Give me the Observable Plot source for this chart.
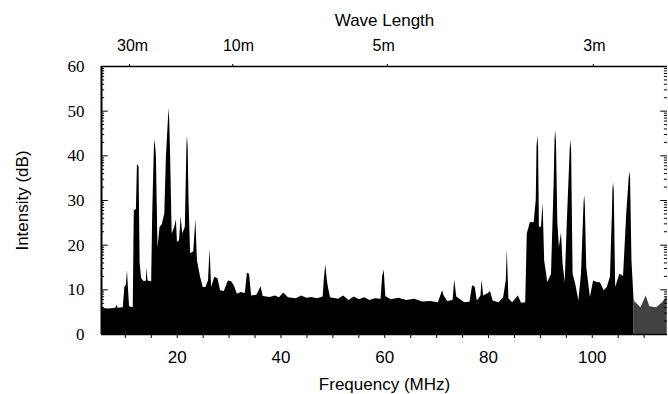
<!DOCTYPE html>
<html><head><meta charset="utf-8">
<script src="https://cdn.jsdelivr.net/npm/d3@7"></script>
<script src="https://cdn.jsdelivr.net/npm/@observablehq/plot@0.6"></script>
<style>body{margin:0;background:#fff;overflow:hidden}</style>
</head><body><div id="chart"></div>
<script>
// Spectrum envelope: frequency (MHz) and intensity (dB)
const freqMHz = [
  5.44, 6.96, 8.17, 8.38, 8.58, 9.59, 9.90, 10.20, 10.40, 10.61,
  10.81, 11.52, 11.72, 12.13, 12.33, 12.64, 12.84, 13.14, 13.65, 14.06,
  14.16, 14.36, 15.07, 15.27, 15.58, 15.68, 15.85, 15.98, 16.29, 16.69,
  17.10, 17.60, 17.91, 18.30, 18.42, 18.55, 18.72, 19.02, 19.53, 19.84,
  20.04, 20.44, 20.75, 21.05, 21.56, 21.86, 21.96, 22.10, 22.27, 22.57,
  23.18, 23.59, 23.89, 24.50, 25.01, 25.51, 26.02, 26.33, 26.63, 27.24,
  27.85, 28.35, 29.06, 29.87, 30.48, 30.99, 31.60, 32.31, 33.12, 33.53,
  33.93, 34.34, 35.35, 36.16, 36.57, 37.89, 38.90, 39.71, 40.52, 41.43,
  42.96, 43.97, 44.98, 46.00, 47.01, 48.13, 48.33, 48.63, 48.94, 49.14,
  49.55, 51.07, 52.08, 53.10, 54.11, 55.13, 56.14, 57.15, 58.17, 59.28,
  59.59, 59.89, 60.20, 61.21, 62.73, 64.25, 65.77, 67.29, 68.81, 70.34,
  71.15, 71.45, 72.16, 73.17, 73.48, 73.88, 74.49, 75.41, 76.42, 76.93,
  77.44, 77.84, 78.55, 78.75, 79.06, 79.97, 80.38, 80.88, 82.00, 82.91,
  83.42, 83.62, 83.93, 84.64, 85.75, 86.36, 87.17, 87.47, 88.08, 88.79,
  89.20, 89.35, 89.50, 89.65, 89.81, 90.21, 90.52, 90.82, 91.43, 92.14,
  92.65, 92.82, 92.95, 93.10, 93.36, 93.66, 94.07, 94.37, 94.78, 95.18,
  95.75, 95.89, 96.02, 96.30, 96.80, 97.41, 97.92, 98.42, 98.53, 98.66,
  98.93, 99.64, 100.25, 101.06, 101.57, 102.28, 102.89, 103.50, 103.90, 103.98,
  104.11, 104.24, 104.51, 105.32, 106.03, 106.64, 107.12, 107.25, 107.38, 107.65,
  108.06, 109.38, 110.39, 111.10, 112.42, 113.63, 114.45
];
const intensityDb = [
  5.8, 5.7, 5.9, 6.6, 5.9, 6.0, 10.5, 11.0, 14.3, 10.0,
  6.2, 6.0, 27.7, 28.0, 38.1, 37.5, 16.0, 12.5, 11.8, 12.0,
  15.0, 12.0, 11.8, 27.0, 41.5, 43.6, 42.0, 40.0, 19.5, 24.0,
  24.5, 27.0, 39.7, 48.0, 50.6, 48.0, 40.0, 22.5, 24.0, 25.7,
  20.6, 21.0, 26.3, 22.5, 24.0, 42.0, 44.4, 42.0, 30.0, 18.1,
  18.5, 25.7, 16.5, 12.8, 10.5, 10.5, 12.0, 19.1, 10.5, 12.8,
  12.5, 9.8, 9.6, 12.0, 11.8, 10.9, 9.0, 9.4, 9.2, 13.7,
  13.5, 8.6, 8.8, 10.7, 8.5, 8.3, 8.6, 8.2, 9.3, 8.2,
  8.0, 8.6, 8.1, 8.3, 8.0, 8.4, 12.0, 15.6, 12.0, 10.5,
  8.2, 7.9, 8.6, 7.6, 8.4, 7.8, 8.2, 7.6, 8.0, 7.9,
  13.0, 14.4, 8.5, 7.8, 8.1, 7.6, 7.9, 7.3, 7.4, 7.1,
  9.8, 8.6, 7.4, 7.6, 12.2, 8.4, 7.9, 7.1, 7.2, 10.9,
  10.6, 7.5, 8.6, 12.2, 8.6, 9.2, 9.6, 7.5, 7.1, 8.2,
  12.0, 18.9, 8.0, 7.1, 8.6, 7.0, 7.1, 22.5, 25.1, 25.0,
  30.0, 42.0, 44.4, 42.0, 24.0, 24.0, 29.4, 16.5, 11.6, 13.5,
  33.8, 43.5, 45.6, 43.0, 25.0, 19.5, 22.7, 15.8, 11.6, 24.8,
  41.5, 43.5, 41.0, 13.5, 11.3, 7.5, 13.5, 29.5, 31.1, 29.0,
  15.0, 8.3, 12.0, 11.6, 11.6, 9.8, 10.5, 12.8, 28.0, 32.5,
  33.9, 32.0, 10.5, 13.5, 13.0, 27.0, 35.0, 36.4, 35.0, 16.5,
  7.5, 6.0, 8.6, 6.2, 6.0, 7.2, 8.5
];
// Axes
const xTicks = [10, 15, 20, 25, 30, 35, 40, 45, 50, 55, 60, 65, 70, 75, 80, 85, 90, 95, 100, 105, 110];
const xTickLabels = [20, 40, 60, 80, 100];
const yTickLabels = [0, 10, 20, 30, 40, 50, 60];
const waveTickFreq = [10.8, 30.7, 60.5, 100.2];
const waveLabelFreq = [11.4, 31.8, 59.8, 100.4];
const waveTickLabel = ["30m", "10m", "5m", "3m"];
const xDomain = [5.4, 114.5];
const yDomain = [0, 60];

const spectrum = freqMHz.map((f, i) => ({f, db: intensityDb[i]}));
const waveLabels = waveTickLabel.map((t, i) => ({t, f: waveLabelFreq[i]}));
// inner minor ticks, log-spaced inside each 10 dB band
const innerTicks = [];
for (let n = 0; n < 6; n++) for (let k = 1; k < 10; k++) innerTicks.push({y: 10 * n + 10 * Math.log10(k), major: k === 1});
innerTicks.push({y: 60, major: true});

const sans = "'Liberation Sans', Arial, Helvetica, sans-serif";
const serif = "'Liberation Serif', 'Times New Roman', serif";

const chart = Plot.plot({
  width: 668, height: 394,
  marginLeft: 101, marginRight: 1, marginTop: 66, marginBottom: 60,
  x: {domain: xDomain},
  y: {domain: yDomain},
  style: {fontFamily: sans, fontSize: "17px", color: "#000", background: "#fff"},
  marks: [
    Plot.areaY(spectrum.filter(d => d.f <= 108.1), {x: "f", y: "db", fill: "#000", curve: "linear"}),
    Plot.areaY(spectrum.filter(d => d.f >= 108.0), {x: "f", y: "db", fill: "#424242", curve: "linear"}),
    Plot.ruleY(innerTicks, {y: "y", x1: xDomain[0], x2: d => xDomain[0] + (d.major ? 1.3 : 0.6), stroke: "#000", strokeWidth: 1}),
    Plot.ruleY(innerTicks, {y: "y", x1: d => xDomain[1] - (d.major ? 1.3 : 0.6), x2: xDomain[1], stroke: "#000", strokeWidth: 1}),
    Plot.ruleX([xDomain[0]], {stroke: "#000", strokeWidth: 2}),
    Plot.ruleY([yDomain[1]], {stroke: "#000", strokeWidth: 1.5}),
    Plot.ruleY([yDomain[0]], {stroke: "#000", strokeWidth: 1.5}),
    Plot.axisX(xTicks, {anchor: "bottom", tickSize: 4, tickPadding: 12, label: null,
      tickFormat: d => xTickLabels.includes(d) ? String(d) : "", fontSize: 17, fontFamily: sans}),
    Plot.axisX(waveTickFreq, {anchor: "top", tickSize: 3, label: null, tickFormat: () => ""}),
    Plot.text(waveLabels, {x: "f", text: "t", frameAnchor: "top", dy: -21, lineAnchor: "middle", textAnchor: "middle",
      fontSize: 16, fontFamily: sans, fill: "#000"}),
    Plot.axisY(yTickLabels, {anchor: "left", tickSize: 0, tickPadding: 17, label: null,
      fontSize: 17, fontFamily: serif}),
    Plot.text(["Wave Length"], {text: d => d, frameAnchor: "top", dy: -46, lineAnchor: "middle", textAnchor: "middle",
      fontSize: 17, fontFamily: sans, fill: "#000"}),
    Plot.text(["Frequency (MHz)"], {text: d => d, frameAnchor: "bottom", dy: 50, lineAnchor: "middle", textAnchor: "middle",
      fontSize: 17, fontFamily: sans, fill: "#000"}),
    Plot.text(["Intensity (dB)"], {text: d => d, frameAnchor: "left", dx: -79, rotate: -90, lineAnchor: "middle", textAnchor: "middle",
      fontSize: 17, fontFamily: sans, fill: "#000"})
  ]
});
document.getElementById("chart").appendChild(chart);
</script>
</body></html>
